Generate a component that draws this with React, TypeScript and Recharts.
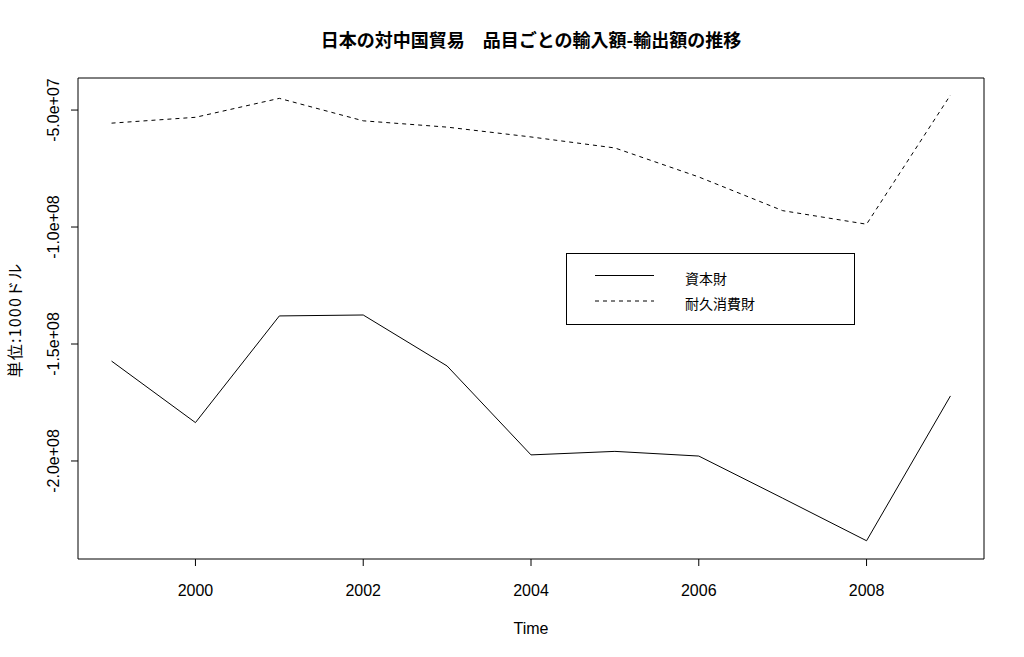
import React from 'react';
import { LineChart, Line, XAxis, YAxis, ReferenceArea, Legend } from 'recharts';

const years = [1999, 2000, 2001, 2002, 2003, 2004, 2005, 2006, 2007, 2008, 2009];
const capitalGoods = [-1.573e8, -1.836e8, -1.380e8, -1.376e8, -1.594e8, -1.974e8, -1.959e8, -1.979e8, -2.159e8, -2.341e8, -1.722e8];
const durableGoods = [-5.56e7, -5.31e7, -4.50e7, -5.46e7, -5.73e7, -6.15e7, -6.62e7, -7.86e7, -9.30e7, -9.88e7, -4.36e7];
const seriesNames = ['資本財', '耐久消費財'];
const xTicks = [2000, 2002, 2004, 2006, 2008];
const yTicks = [-5e7, -1e8, -1.5e8, -2e8];
const yTickLabels = ['-5.0e+07', '-1.0e+08', '-1.5e+08', '-2.0e+08'];
const xDomain = [1998.6, 2009.4];
const yDomain = [-2.419e8, -3.63e7];
const titleText = '日本の対中国貿易\u3000品目ごとの輸入額-輸出額の推移';
const xLabelText = 'Time';
const yLabelText = '単位:1000ドル';

const data = years.map((y, i) => ({ year: y, capital: capitalGoods[i], durable: durableGoods[i] }));

const FONT = "'Liberation Sans', Arial, 'Noto Sans CJK JP', sans-serif";
const CJK = "'Noto Sans CJK JP', 'Liberation Sans', sans-serif";

const YTick = (props: any) => {
  const { x, y, payload } = props;
  const idx = yTicks.indexOf(payload.value);
  const label = idx >= 0 ? yTickLabels[idx] : String(payload.value);
  const bx = x - 12;
  return (
    <text x={bx} y={y} transform={`rotate(-90, ${bx}, ${y})`} textAnchor="middle" fontSize={16} fill="#000" fontFamily={FONT}>
      {label}
    </text>
  );
};

const XTick = (props: any) => {
  const { x, y, payload } = props;
  return (
    <text x={x} y={y} dy="0.71em" textAnchor="middle" fontSize={16} fill="#000" fontFamily={FONT}>
      {payload.value}
    </text>
  );
};

const LegendBox = () => (
  <svg width={290} height={73} style={{ display: 'block' }}>
    <rect x={0.5} y={0.5} width={288} height={71} fill="#fff" stroke="#000" strokeWidth={1} />
    <line x1={29} x2={88} y1={22.5} y2={22.5} stroke="#000" strokeWidth={1} />
    <line x1={29} x2={88} y1={48} y2={48} stroke="#000" strokeWidth={1} strokeDasharray="4 4" />
    <text x={119} y={25} dominantBaseline="central" fontSize={14} fontFamily={CJK} fill="#000">{seriesNames[0]}</text>
    <text x={119} y={50} dominantBaseline="central" fontSize={14} fontFamily={CJK} fill="#000">{seriesNames[1]}</text>
  </svg>
);

export default function App() {
  return (
    <div style={{ position: 'absolute', left: 0, top: 0, width: 1024, height: 657, background: '#fff' }}>
      <LineChart width={1024} height={657} data={data} margin={{ top: 78, right: 40, left: 0, bottom: 0 }}>
        <XAxis
          dataKey="year"
          type="number"
          domain={xDomain}
          ticks={xTicks}
          allowDataOverflow
          axisLine={false}
          tickLine={{ stroke: '#000' }}
          tickSize={7}
          tickMargin={19}
          height={98}
          tick={<XTick />}
          interval={0}
        />
        <YAxis
          type="number"
          domain={yDomain}
          ticks={yTicks}
          allowDataOverflow
          axisLine={false}
          tickLine={{ stroke: '#000' }}
          tickSize={7}
          tickMargin={0}
          width={78}
          tick={<YTick />}
          interval={0}
        />
        <ReferenceArea x1={xDomain[0]} x2={xDomain[1]} y1={yDomain[0]} y2={yDomain[1]} fill="none" fillOpacity={0} stroke="#000" strokeWidth={1} ifOverflow="visible" />
        <Line type="linear" dataKey="capital" name={seriesNames[0]} stroke="#000" strokeWidth={1} dot={false} activeDot={false} isAnimationActive={false} />
        <Line type="linear" dataKey="durable" name={seriesNames[1]} stroke="#000" strokeWidth={1} strokeDasharray="4 4" dot={false} activeDot={false} isAnimationActive={false} />
        <Legend
          layout="horizontal"
          verticalAlign="middle"
          align="center"
          content={() => <LegendBox />}
          wrapperStyle={{ position: 'absolute', left: 566, top: 253, width: 290, height: 73 }}
        />
      </LineChart>
      <svg width={1024} height={657} style={{ position: 'absolute', left: 0, top: 0, pointerEvents: 'none' }}>
        <text x={531} y={47} textAnchor="middle" fontSize={18} fontWeight="bold" fontFamily={CJK} fill="#000">{titleText}</text>
        <text x={531} y={634} textAnchor="middle" fontSize={16} fontFamily={FONT} fill="#000">{xLabelText}</text>
        <text x={21} y={320} transform="rotate(-90, 21, 320)" textAnchor="middle" fontSize={16} letterSpacing={1.2} fontFamily={CJK} fill="#000">{yLabelText}</text>
      </svg>
    </div>
  );
}
